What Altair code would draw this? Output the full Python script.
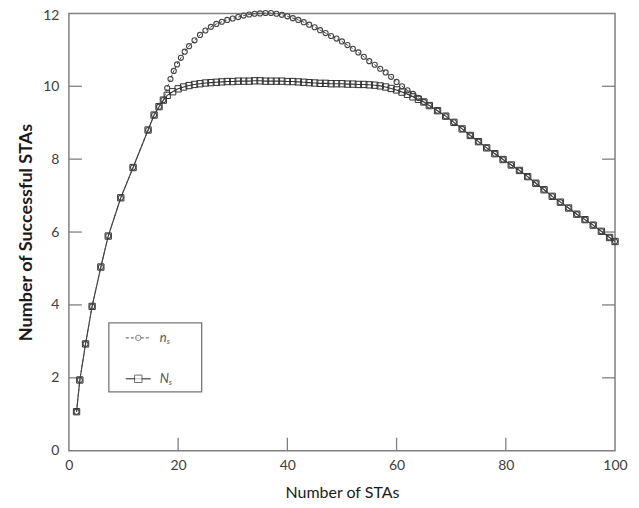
import altair as alt
import pandas as pd

# ---------------- data ----------------
# rising section where both curves coincide
x_rise = [1.4, 2.0, 3.05, 4.25, 5.85, 7.2, 9.5, 11.75, 14.5, 15.6, 16.5, 17.3]
y_rise = [1.07, 1.94, 2.93, 3.96, 5.04, 5.89, 6.94, 7.77, 8.80, 9.21, 9.44, 9.62]

# n_s (circles) middle section
x_ns_mid = [18.0, 18.6, 19.2, 19.8, 20.5, 21.2, 22, 23, 24, 25, 26, 27, 28, 29, 30,
            31, 32, 33, 34, 35, 36, 37, 38, 39, 40, 41, 42, 43, 44, 45, 46, 47, 48,
            49, 50, 51, 52, 53, 54, 55, 56, 57, 58, 59, 60, 61, 62, 63, 64, 65]
y_ns_mid = [9.95, 10.2, 10.42, 10.6, 10.78, 10.95, 11.1, 11.26, 11.41, 11.53, 11.63,
            11.71, 11.77, 11.82, 11.86, 11.9, 11.94, 11.97, 11.99, 12.0, 12.01, 12.01,
            11.99, 11.96, 11.92, 11.87, 11.82, 11.76, 11.69, 11.62, 11.54, 11.46, 11.38,
            11.31, 11.23, 11.13, 11.03, 10.93, 10.81, 10.69, 10.59, 10.48, 10.38, 10.26,
            10.12, 10.0, 9.89, 9.79, 9.68, 9.57]

# N_s (squares) middle section
x_Ns_mid = [18, 19, 20, 21, 22, 23, 24, 25, 26, 27, 28, 29, 30, 31, 32, 33, 34, 35,
            36, 37, 38, 39, 40, 41, 42, 43, 44, 45, 46, 47, 48, 49, 50, 51, 52, 53,
            54, 55, 56, 57, 58, 59, 60, 61, 62, 63, 64, 65]
y_Ns_mid = [9.75, 9.85, 9.93, 9.98, 10.02, 10.05, 10.07, 10.09, 10.1, 10.11, 10.12,
            10.13, 10.13, 10.14, 10.14, 10.14, 10.15, 10.15, 10.14, 10.14, 10.14, 10.14,
            10.13, 10.13, 10.12, 10.11, 10.1, 10.09, 10.08, 10.08, 10.07, 10.07, 10.07,
            10.06, 10.06, 10.05, 10.05, 10.04, 10.03, 10.01, 9.98, 9.94, 9.9, 9.84,
            9.78, 9.71, 9.64, 9.57]

# falling tail where both curves coincide again
x_tail = [66, 67.5, 69, 70.5, 72, 73.5, 75, 76.5, 78, 79.5, 81, 82.5, 84, 85.5, 87,
          88.5, 90, 91.5, 93, 94.5, 96, 97.5, 99, 100]
y_tail = [9.47, 9.33, 9.18, 9.01, 8.83, 8.65, 8.48, 8.31, 8.15, 7.99, 7.84, 7.69, 7.52,
          7.34, 7.16, 6.98, 6.82, 6.66, 6.49, 6.34, 6.19, 6.02, 5.85, 5.74]

x_ticks = [0, 20, 40, 60, 80, 100]
y_ticks = [0, 2, 4, 6, 8, 10, 12]
x_inner_ticks = [20, 40, 60, 80]
y_inner_ticks = [2, 4, 6, 8, 10]

x_title = "Number of STAs"
y_title = "Number of Successful STAs"

# ---------------- tables ----------------
df_ns = pd.DataFrame({"x": x_rise + x_ns_mid + x_tail, "y": y_rise + y_ns_mid + y_tail})
df_Ns = pd.DataFrame({"x": x_rise + x_Ns_mid + x_tail, "y": y_rise + y_Ns_mid + y_tail})
df_xt = pd.DataFrame({"t": x_inner_ticks})
df_yt = pd.DataFrame({"t": y_inner_ticks})

W, H = 547, 438
FONT = "Lato"
AX = "#808080"

xs = alt.Scale(domain=[0, 100], nice=False)
ys = alt.Scale(domain=[0, 12], nice=False)

X = alt.X("x:Q", scale=xs,
          axis=alt.Axis(values=x_ticks, title=x_title, ticks=False, domain=False, grid=False,
                        labelFlush=False, labelPadding=8, titlePadding=12, labelFontSize=14,
                        titleFontSize=16, titleFontWeight="normal"))
Y = alt.Y("y:Q", scale=ys,
          axis=alt.Axis(values=y_ticks, title=y_title, ticks=False, domain=False, grid=False,
                        labelFlush=False, labelPadding=10, titlePadding=7, labelFontSize=14,
                        labelOffset={"condition": {"test": "datum.value == 12", "value": 2},
                                     "value": 0},
                        titleFontSize=18, titleFontWeight="bold"))

line_Ns = alt.Chart(df_Ns).mark_line(color="#333333", strokeWidth=1.1).encode(x=X, y=Y)
line_ns = alt.Chart(df_ns).mark_line(color="#4d4d4d", strokeWidth=1, strokeDash=[3, 2]).encode(x=X, y=Y)
pts_Ns = alt.Chart(df_Ns).mark_point(shape="square", size=40, filled=False, color="#333333",
                                     strokeWidth=1, opacity=1).encode(x=X, y=Y)
pts_ns = alt.Chart(df_ns).mark_point(shape="circle", size=26, filled=False, color="#444444",
                                     strokeWidth=1.1, opacity=1).encode(x=X, y=Y)

# inward ticks
tick_b = alt.Chart(df_xt).mark_rule(color=AX, strokeWidth=1.3).encode(
    x=alt.X("t:Q", scale=xs), y=alt.value(H), y2=alt.value(H - 13))
tick_l = alt.Chart(df_yt).mark_rule(color=AX, strokeWidth=1.3).encode(
    y=alt.Y("t:Q", scale=ys), x=alt.value(0), x2=alt.value(13))
tick_r = alt.Chart(df_yt).mark_rule(color=AX, strokeWidth=1.3).encode(
    y=alt.Y("t:Q", scale=ys), x=alt.value(W), x2=alt.value(W - 13))

# legend (layout in pixels)
one = alt.Data(values=[{"a": 1}])
lx0, ly0, lx1, ly1 = 40, 310, 133, 379
e1, e2 = 325, 366
leg_box = alt.Chart(one).mark_rect(fill="white", stroke="#777777", strokeWidth=1.3).encode(
    x=alt.value(lx0), x2=alt.value(lx1), y=alt.value(ly0), y2=alt.value(ly1))
leg_l1 = alt.Chart(one).mark_rule(color="#555555", strokeWidth=1, strokeDash=[3, 2]).encode(
    x=alt.value(57), x2=alt.value(82), y=alt.value(e1))
leg_p1 = alt.Chart(one).mark_point(shape="circle", size=30, filled=True, fill="white",
                                   stroke="#555555", strokeWidth=1).encode(
    x=alt.value(69.5), y=alt.value(e1))
leg_l2 = alt.Chart(one).mark_rule(color="#333333", strokeWidth=1.1).encode(
    x=alt.value(57), x2=alt.value(82), y=alt.value(e2))
leg_p2 = alt.Chart(one).mark_point(shape="square", size=55, filled=True, fill="white",
                                   stroke="#333333", strokeWidth=1).encode(
    x=alt.value(69.5), y=alt.value(e2))
leg_t1 = alt.Chart(one).mark_text(font=FONT, fontSize=13, fontStyle="italic", color="#555555",
                                  align="left", baseline="middle").encode(
    x=alt.value(91), y=alt.value(e1), text=alt.value("n"))
leg_s1 = alt.Chart(one).mark_text(font=FONT, fontSize=8, fontStyle="italic", color="#555555",
                                  align="left", baseline="middle").encode(
    x=alt.value(98), y=alt.value(e1 + 4), text=alt.value("s"))
leg_t2 = alt.Chart(one).mark_text(font=FONT, fontSize=13, fontStyle="italic", color="#555555",
                                  align="left", baseline="middle").encode(
    x=alt.value(91), y=alt.value(e2), text=alt.value("N"))
leg_s2 = alt.Chart(one).mark_text(font=FONT, fontSize=8, fontStyle="italic", color="#555555",
                                  align="left", baseline="middle").encode(
    x=alt.value(100), y=alt.value(e2 + 4), text=alt.value("s"))

chart = alt.layer(
    tick_b, tick_l, tick_r,
    line_Ns, line_ns, pts_Ns, pts_ns,
    leg_box, leg_l1, leg_p1, leg_l2, leg_p2, leg_t1, leg_s1, leg_t2, leg_s2,
).properties(
    width=W, height=H,
    autosize=alt.AutoSizeParams(type="none"),
    padding={"left": 61, "top": 5, "right": 16, "bottom": 52},
).configure_view(
    stroke=AX, strokeWidth=1.5
).configure_axis(
    labelFont=FONT, titleFont=FONT, labelColor="#404040", titleColor="#1a1a1a"
)

chart.save("out.html", embed_options={"renderer": "svg", "actions": False})
